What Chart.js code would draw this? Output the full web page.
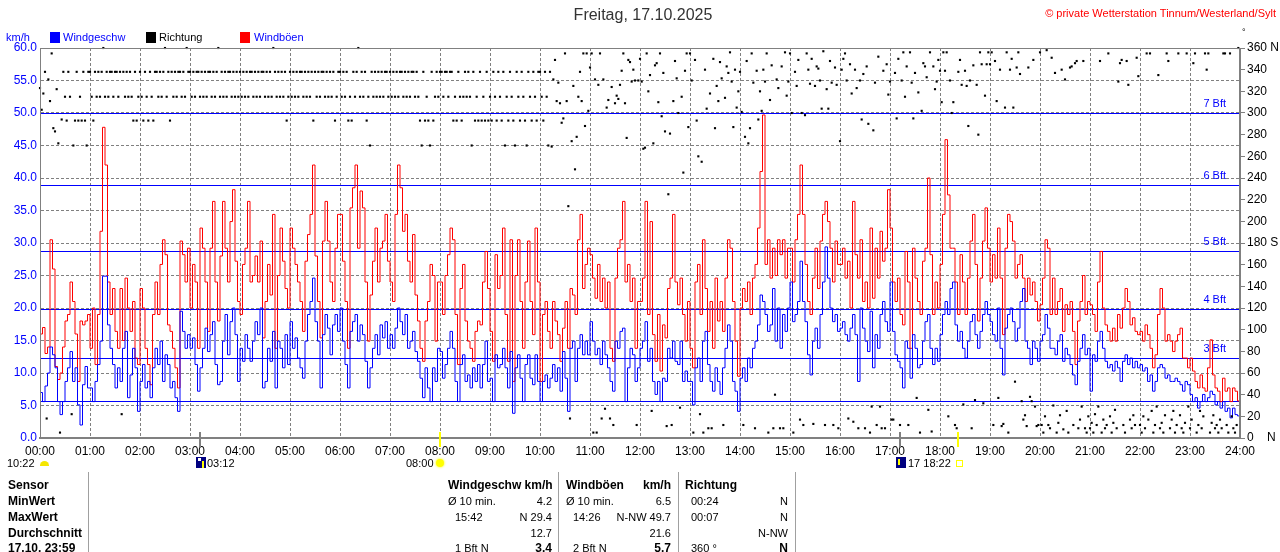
<!DOCTYPE html>
<html>
<head>
<meta charset="utf-8">
<script src="https://cdn.jsdelivr.net/npm/chart.js@4.4.1/dist/chart.umd.min.js"></script>
<style>
  body { margin: 0; background: #fff; }
  #wrap { position: relative; width: 1280px; height: 552px; overflow: hidden; background: #fff; }
  #windChart { position: absolute; left: 0; top: 0; }
  .tx { position: absolute; font: 11px "Liberation Sans", Arial, sans-serif; line-height: 14px; white-space: nowrap; color: #000; }
  .b { font-weight: bold; font-size: 12px; }
  .r { text-align: right; }
  .sep { position: absolute; width: 1px; background: #a0a0a0; top: 472px; height: 80px; }
  .mark { position: absolute; width: 2px; top: 432px; height: 15px; }
</style>
</head>
<body>
<div id="wrap">
  <canvas id="windChart" width="1280" height="552"></canvas>

  <div class="tx" style="left:3px;width:1280px;text-align:center;top:6px;font-size:16px;line-height:18px;color:#333">Freitag, 17.10.2025</div>
  <div class="tx" style="right:4px;top:6px;color:#ff0000">© private Wetterstation Tinnum/Westerland/Sylt</div>
  <div class="tx" style="left:1242px;top:25px;font-size:9px">°</div>

  <div class="tx" style="left:6px;top:30px;color:#0000ff">km/h</div>
  <div style="position:absolute;left:50px;top:32px;width:10px;height:11px;background:#0000ff"></div>
  <div class="tx" style="left:63px;top:30px;color:#0000ff">Windgeschw</div>
  <div style="position:absolute;left:146px;top:32px;width:10px;height:11px;background:#000"></div>
  <div class="tx" style="left:159px;top:30px">Richtung</div>
  <div style="position:absolute;left:240px;top:32px;width:10px;height:11px;background:#ff0000"></div>
  <div class="tx" style="left:254px;top:30px;color:#0000ff">Windböen</div>

  <!-- sun / moon markers under the time axis -->
  <div class="mark" style="left:199px;background:#808080"></div>
  <div class="mark" style="left:439px;background:#ffff00"></div>
  <div class="mark" style="left:899px;background:#808080"></div>
  <div class="mark" style="left:957px;background:#ffff00"></div>

  <div class="tx" style="left:7px;top:456px">10:22</div>
  <div style="position:absolute;left:40px;top:461px;width:9px;height:5px;background:#f5e600;border-radius:5px 5px 0 0"></div>
  <div style="position:absolute;left:196px;top:457px;width:10px;height:11px;background:#000080"></div>
  <div style="position:absolute;left:198px;top:458px;width:3px;height:3px;background:#fff"></div>
  <div style="position:absolute;left:202px;top:461px;width:2px;height:7px;background:#ffff00"></div>
  <div class="tx" style="left:207px;top:456px">03:12</div>
  <div class="tx" style="left:406px;top:456px">08:00</div>
  <div style="position:absolute;left:436px;top:459px;width:8px;height:8px;border-radius:4px;background:#ffff00;box-shadow:0 0 2px 1px #ffff80"></div>
  <div style="position:absolute;left:896px;top:457px;width:10px;height:11px;background:#000080"></div>
  <div style="position:absolute;left:898px;top:459px;width:2px;height:6px;background:#ffff00"></div>
  <div class="tx" style="left:908px;top:456px">17 18:22</div>
  <div style="position:absolute;left:956px;top:460px;width:5px;height:5px;border:1px solid #ffff00"></div>

  <!-- statistics table -->
  <div class="sep" style="left:88px"></div>
  <div class="sep" style="left:558px"></div>
  <div class="sep" style="left:678px"></div>
  <div class="sep" style="left:795px"></div>

  <div class="tx b" style="left:8px;top:478px">Sensor</div>
  <div class="tx b" style="left:448px;top:478px">Windgeschw km/h</div>
  <div class="tx b" style="left:566px;top:478px">Windböen</div>
  <div class="tx b" style="right:609px;top:478px">km/h</div>
  <div class="tx b" style="left:685px;top:478px">Richtung</div>

  <div class="tx b" style="left:8px;top:494px">MinWert</div>
  <div class="tx" style="left:448px;top:494px">Ø 10 min.</div>
  <div class="tx" style="right:728px;top:494px">4.2</div>
  <div class="tx" style="left:566px;top:494px">Ø 10 min.</div>
  <div class="tx" style="right:609px;top:494px">6.5</div>
  <div class="tx" style="left:691px;top:494px">00:24</div>
  <div class="tx" style="right:492px;top:494px">N</div>

  <div class="tx b" style="left:8px;top:510px">MaxWert</div>
  <div class="tx" style="left:455px;top:510px">15:42</div>
  <div class="tx" style="right:728px;top:510px">N 29.4</div>
  <div class="tx" style="left:573px;top:510px">14:26</div>
  <div class="tx" style="right:609px;top:510px">N-NW 49.7</div>
  <div class="tx" style="left:691px;top:510px">00:07</div>
  <div class="tx" style="right:492px;top:510px">N</div>

  <div class="tx b" style="left:8px;top:526px">Durchschnitt</div>
  <div class="tx" style="right:728px;top:526px">12.7</div>
  <div class="tx" style="right:609px;top:526px">21.6</div>
  <div class="tx" style="right:492px;top:526px">N-NW</div>

  <div class="tx b" style="left:8px;top:541px">17.10. 23:59</div>
  <div class="tx" style="left:455px;top:541px">1 Bft N</div>
  <div class="tx b" style="right:728px;top:541px">3.4</div>
  <div class="tx" style="left:573px;top:541px">2 Bft N</div>
  <div class="tx b" style="right:609px;top:541px">5.7</div>
  <div class="tx" style="left:691px;top:541px">360 °</div>
  <div class="tx b" style="right:492px;top:541px">N</div>
</div>

<script>
// one value every 3 minutes, 00:00 .. 23:57
const SPEED_STEP_MIN = 3;
const windSpeed = [
  7,5.6,8,10,14,12.8,10.8,5.6,3.6,5.6,8.7,10.8,13.3,8.7,10.8,5.1,2,8.2,11,7.7,
  7.7,5.6,8.7,11.3,14.9,24.9,24.9,17.4,13.8,11.3,7.7,10.8,8.7,13.8,16.4,6.2,9.7,13.8,10.8,4.1,
  8.7,11.3,7.7,8.7,6.2,10.8,13.8,11.3,14.9,8.7,12.8,11.3,7.7,8.7,6.2,4.1,19.5,16.4,13.8,15.9,
  13.8,15.4,11.3,7.2,10.8,13.8,16.9,13.3,15.9,17.9,11.3,8.2,8.7,14.9,19,12.8,17.9,20,15.9,8.7,
  13.8,11.8,15.9,13.8,11.8,14.9,17.9,15.9,20,7.7,8.7,13.8,11.8,16.4,7.7,14.9,13.8,10.8,15.9,11.3,
  17.9,13.8,15.4,12.3,10.8,9.2,14.9,19,21,24.6,17.9,14.9,7.7,15.9,19,16.9,12.8,17.4,19,16.4,
  20,14.9,11.3,7.7,16.4,17.9,19,14.9,17.4,15.9,11.8,7.7,10.8,13.8,15.9,12.8,17.4,15.4,17.9,13.8,
  15.9,13.8,16.9,20,17.9,15.9,19,13.8,14.9,16.4,13.3,11.8,9.2,6.2,10.8,7.7,5.6,10.8,8.7,13.8,
  13.3,9.2,11.3,13.8,16.4,13.8,8.7,5.6,11.3,12.8,8.7,9.7,7.7,10.8,8.7,11.3,7.7,11.3,14.9,8.7,
  9.2,5.6,12.8,10.8,11.3,13.8,10.8,7.7,13.3,3.8,10.8,12.8,9.2,5.6,11.3,12.8,9.2,8.2,12.8,8.7,
  5.6,8.7,9.7,7.7,9.2,11.3,8.7,10.8,7.2,13.3,9.2,4.1,13.8,14.9,8.7,13.8,15.9,12.8,14.9,12.8,
  17.9,14.9,12.8,13.8,11.3,14.9,12.8,10.8,8.7,7.2,14.9,13.8,16.4,16.9,5.6,10.8,13.8,12.8,8.7,10.8,
  13.8,14.9,17.9,11.8,13.8,8.7,6.7,8.7,5.6,9.2,8.7,13.8,12.3,14.9,11.8,11.3,14.9,8.7,10.3,8.7,
  8.7,5.1,10.8,12.3,8.7,14.9,16.4,11.3,8.7,7.2,10.8,8.7,6.7,10.8,13.8,17.4,14.9,8.7,7.2,4.1,
  9.2,10.8,8.7,12.3,10.8,13.8,14.9,17.4,22,21,19,16.4,17.4,23,14.9,20,13.8,19,16.4,20,
  24,17.9,19,21,27.2,21,17.9,12.8,9.7,14.9,16.9,13.8,19,24,29.4,24.6,20,17.9,19,16.4,
  16.9,17.9,15.9,14.9,16.9,19,15.9,8.7,20,16.9,14.9,13.3,19.5,10.8,15.9,13.8,19,21,17.9,16.4,
  24,16.4,12.8,11.8,10.8,7.7,14.9,13.8,9.2,15.9,13.8,10.8,11.3,14.9,17.9,19,13.8,11.3,13.8,11.8,
  15.9,19,21,19,23,24,17.4,14.9,16.4,13.8,12.3,14.9,17.9,19,15.9,13.8,16.4,19,21,19,
  17.9,15.9,14.9,20,13.8,9.7,16.9,19,20,17.9,14.9,16.9,21,23,14.9,13.8,11.3,14.9,13.8,11.8,
  14.9,15.9,19,16.9,13.8,13.8,12.8,14.9,15.9,11.8,13.8,12.8,11.3,9.7,8.2,11.8,13.8,15.9,12.8,13.8,
  7.2,12.8,11.8,14.9,16.4,13.8,11.8,10.8,11.3,10.3,11.8,10.8,8.7,11.8,12.8,11.3,12.3,10.8,11.8,10.8,
  11.3,10.3,10.8,8.7,9.7,7.2,8.7,10.8,11.3,10.8,9.2,9.7,8.7,8.7,9.2,8.7,8.2,7.2,8.7,8.2,
  6.7,5.6,6.2,4.6,5.6,6.7,5.6,6.2,7.2,6.7,5.1,5.6,4.6,5.6,4.1,4.6,3.1,4.6,3.6,3.4
];
const windGust = [
  16,17,13,14,30.5,26,11,9,10,14,18,19,24,21,16,8.7,18,17.4,18,19,
  13.8,20,11.3,19,31.8,47.8,42,24,19,23,16.4,13.8,23,15,24.6,20,16.4,21,12.3,11.3,
  23,20,13.8,11.3,8.2,19,24,19,26.7,30.5,28.2,17.4,16.4,13.8,10.8,7.7,30.3,28.2,24,29.2,
  20,26.7,24,13.8,32.3,29.2,24,16.4,29.2,36.4,24,18,28,36.4,29.2,24,33.3,38.2,27.2,21,
  19,26.7,29.2,36.4,24,25,28,24,30.3,15.4,21,26.7,22,34.4,13.8,25,32.3,27.2,23,20,
  32.3,29.2,26.7,24,21,16.4,27.2,31.3,34.4,42,28,21,15.4,30.3,36.4,30.3,24,21,29.2,34.4,
  34.4,27.2,21,13.8,35.4,38.5,42,29.2,38,35.4,24,14.9,22,27.2,32.3,24,29.2,30.3,34.4,27.2,
  24,21,34.4,42,38.5,31.8,34.4,27.2,24,31.3,22,18,13.8,11.8,18,21,26.7,25,14.9,24,
  24,19,25,28.2,32.3,30.5,19,11.3,23,26.7,18,14.9,13.8,11.8,16.4,18,17.4,24,28.7,23,
  16.4,11.8,28.2,23,25,32.3,19,11.8,30.5,8.7,25,30.5,21,13.8,24,30.3,21,15.9,32.3,24,
  8.7,19,21,16.4,13.8,21,18,15.9,11.8,16.9,21,13.8,23,22,19,30.5,34.4,23,26.7,29.2,
  28.2,24.6,21.5,26.7,21,24.6,20,24,13.8,11.8,24.6,29.2,30.5,36.4,24,26.7,21,24.6,13.8,21,
  21,24.6,36.4,19,33.3,15.9,11.8,19,10.3,17.4,15.4,23,24.6,34.4,24,20.5,24.6,19,14.9,21,
  13.8,10.8,24,26.7,19,30.5,23,16.4,21,13.8,24.6,18,21,16.4,24.6,30.5,29.2,21,14.9,9.5,
  20,23,21,24,19,24.6,26.7,32.3,41,49.7,26.7,30.5,24.6,29.2,25,30.5,28.2,30.5,24.6,29.2,
  29.2,24,30.5,34.4,42,34.4,26.7,21,19,24.6,29.2,23,30.3,34.4,36.4,33.3,29.2,24,30.3,26.7,
  26.7,29.2,24.6,27.2,20,36.4,28.2,24.6,30.5,21,24,20,32.3,21.5,29.2,24.6,31.8,27.2,29.2,38.2,
  32.3,24,21,24.6,19,17.4,28.7,24,13.8,29.2,24.6,21,19,27.2,29.2,40,28.2,19,24,20,
  26.7,34.4,45.9,37.4,29.2,29.2,24,19,28.2,24,19,24.6,30.3,34.4,26.7,18,24.6,30.3,35.4,29.2,
  24,28.2,24.6,32.3,24.6,15.9,29.2,34.4,33.3,30.3,24.6,26.7,28.2,24.6,21,24.6,22,24,21,18,
  20.5,24.6,30.5,29.2,19,24.6,19,21,23,16.4,20.5,19,21,16.4,11.3,18,21,25,19,21,
  20.5,19,16.4,24,28.7,20,17.4,16.4,14.9,16.9,14.9,19,16.9,20,23,21,17.4,18.5,16.4,15.9,
  16.4,14.9,17.4,15.9,13.8,10.8,12.8,19,23,20,14.9,15.9,14.9,13.3,14.9,15.9,16.9,12.3,12.3,10.8,
  12.3,10.3,8.7,7.7,9.7,7.7,7.2,10.8,15.1,9.7,7.7,7.2,5.6,9.2,7.2,7.7,5.6,7.7,7.2,5.7
];
// wind direction in degrees, one value every 2 minutes
const DIR_STEP_MIN = 2;
const windDir = [
  323,303,318,338,18,331,311,355,286,283,322,272,5,294,338,315,293,338,315,22,270,293,338,293,315,293,338,293,270,338,
  338,315,293,338,315,338,315,338,360,315,338,315,338,338,315,338,338,315,338,22,338,315,338,315,338,315,293,338,293,315,
  338,315,293,338,315,293,338,315,293,338,338,315,338,315,338,360,315,338,293,338,315,338,315,338,338,315,338,315,360,338,
  338,315,338,315,338,338,315,338,315,338,315,338,338,315,338,315,338,360,315,338,315,338,315,338,338,315,338,315,338,315,
  338,315,338,315,338,315,338,338,315,338,315,338,315,338,338,315,338,315,338,315,360,338,315,338,315,338,315,338,293,315,
  338,315,338,315,338,315,338,338,315,338,315,338,315,338,293,338,315,338,315,338,338,315,338,315,338,315,338,293,315,338,
  338,315,338,315,338,293,315,293,338,315,338,360,315,338,315,338,293,315,270,338,315,338,315,338,315,338,315,338,338,315,
  338,315,338,315,338,315,338,338,315,338,315,338,315,338,338,315,338,315,293,270,338,293,315,293,270,338,293,315,338,315,
  338,338,315,338,338,315,338,338,293,315,293,338,315,293,315,338,315,338,315,270,338,293,315,293,338,293,315,293,338,293,
  315,293,338,315,293,338,315,293,338,270,315,293,338,315,293,270,338,315,293,338,315,293,270,338,315,293,338,315,293,338,
  338,315,293,338,315,270,338,269,331,349,311,328,309,291,295,355,311,214,18,274,325,248,278,315,338,311,355,288,355,302,
  342,355,5,331,5,326,355,18,331,27,305,312,18,324,12,309,316,313,326,339,355,309,277,349,347,329,340,330,12,330,
  350,329,267,268,355,320,335,25,272,344,346,310,355,297,337,283,11,225,281,12,311,348,332,300,28,315,245,339,355,287,
  355,330,5,349,293,260,22,255,5,340,304,9,318,9,350,286,325,311,347,332,12,314,343,337,356,329,287,340,305,320,
  338,301,12,278,348,272,286,355,328,9,339,294,320,302,340,329,355,5,312,344,9,40,331,323,9,343,9,356,316,329,
  355,300,5,338,325,349,17,300,12,298,355,340,327,350,13,325,343,341,330,304,357,12,322,304,348,328,12,342,326,9,
  274,340,350,355,330,18,345,318,15,340,323,9,330,294,336,9,343,290,5,29,284,328,12,352,29,9,339,9,345,317,
  329,17,17,337,295,350,12,330,356,315,343,12,356,328,295,337,37,319,5,302,346,343,333,26,356,6,343,322,329,349,
  339,310,356,339,356,20,330,300,310,12,9,338,349,326,31,339,325,288,330,9,344,35,326,280,356,345,32,316,345,356,
  345,356,12,348,311,37,340,11,13,305,356,5,340,350,305,52,342,356,336,34,17,21,11,342,38,34,349,29,11,12,
  356,12,5,20,358,12,9,351,30,337,5,14,21,340,8,331,25,5,342,343,12,346,348,9,17,29,348,9,5,20,
  9,14,5,22,12,29,348,5,17,9,12,355,20,5,14,26,9,329,346,349,12,5,348,326,17,9,21,12,351,334,
  12,5,20,9,355,17,355,25,5,12,29,335,9,14,5,21,355,348,9,17,25,5,12,355,21,9,5,14,355,29,
  9,17,346,355,5,12,25,9,20,355,340,355,5,14,21,9,12,5,17,9,355,355,12,5,355,20,9,5,12,360
];
// Beaufort thresholds in km/h and their labels
const bftValues = [5.76, 12.24, 19.8, 28.8, 38.88, 50.04];
const bftLabels = ['', '3 Bft', '4 Bft', '5 Bft', '6 Bft', '7 Bft'];

const DAY_MIN = 1440;

function toPoints(values, step, closeDay) {
    const pts = values.map((v, i) => ({ x: i * step, y: v }));
    if (closeDay) pts.push({ x: DAY_MIN, y: values[values.length - 1] });
    return pts;
}

function hhmm(min) {
    return String(Math.round(min / 60)).padStart(2, '0') + ':00';
}

const bftPlugin = {
    id: 'bft',
    beforeDatasetsDraw(chart) {
        const { ctx, chartArea: a, scales: { y } } = chart;
        ctx.save();
        ctx.strokeStyle = '#0000ff';
        ctx.lineWidth = 1;
        bftValues.forEach(v => {
            const py = Math.round(y.getPixelForValue(v)) + 0.5;
            ctx.beginPath();
            ctx.moveTo(a.left, py);
            ctx.lineTo(a.right, py);
            ctx.stroke();
        });
        ctx.restore();
    },
    afterDatasetsDraw(chart) {
        const { ctx, chartArea: a, scales: { y } } = chart;
        ctx.save();
        ctx.fillStyle = '#0000ff';
        ctx.font = '11px "Liberation Sans", Arial, sans-serif';
        ctx.textAlign = 'right';
        ctx.textBaseline = 'middle';
        bftValues.forEach((v, i) => {
            if (!bftLabels[i]) return;
            ctx.fillText(bftLabels[i], a.right - 14, y.getPixelForValue(v) - 9);
        });
        // frame round the plot
        ctx.strokeStyle = '#808080';
        ctx.lineWidth = 1;
        ctx.strokeRect(a.left + 0.5, a.top + 0.5, a.right - a.left - 1, a.bottom - a.top);
        ctx.restore();
    }
};

Chart.defaults.font.family = '"Liberation Sans", Arial, sans-serif';
Chart.defaults.font.size = 12;

const ctx = document.getElementById('windChart').getContext('2d');
const windChart = new Chart(ctx, {
    type: 'line',
    data: {
        datasets: [{
            label: 'Richtung',
            data: toPoints(windDir, DIR_STEP_MIN, false),
            yAxisID: 'y2',
            showLine: false,
            pointStyle: 'rect',
            pointRadius: 1.5,
            pointBorderWidth: 0,
            pointBackgroundColor: '#000000',
            clip: 3,
            order: 1
        }, {
            label: 'Windgeschw',
            data: toPoints(windSpeed, SPEED_STEP_MIN, true),
            yAxisID: 'y',
            borderColor: '#0000ff',
            borderWidth: 1,
            pointRadius: 0,
            stepped: true,
            order: 2
        }, {
            label: 'Windböen',
            data: toPoints(windGust, SPEED_STEP_MIN, true),
            yAxisID: 'y',
            borderColor: '#ff0000',
            borderWidth: 1,
            pointRadius: 0,
            stepped: true,
            order: 3
        }]
    },
    options: {
        responsive: false,
        devicePixelRatio: 1,
        animation: false,
        events: [],
        layout: { padding: { top: 48, left: 0, right: 0, bottom: 0 } },
        plugins: {
            legend: { display: false },
            tooltip: { enabled: false }
        },
        scales: {
            x: {
                type: 'linear',
                min: 0,
                max: DAY_MIN,
                ticks: {
                    stepSize: 60,
                    maxTicksLimit: 25,
                    autoSkip: false,
                    maxRotation: 0,
                    color: '#000',
                    padding: 6,
                    callback: v => hhmm(v)
                },
                grid: { color: '#808080', drawTicks: false },
                border: { color: '#808080', width: 2, dash: [3, 2] },
                afterFit(scale) { scale.height = 114; }
            },
            y: {
                position: 'left',
                min: 0,
                max: 60,
                ticks: {
                    stepSize: 5,
                    maxTicksLimit: 13,
                    color: '#0000ff',
                    padding: 3,
                    callback: v => v.toFixed(1)
                },
                grid: { color: '#808080', drawTicks: false },
                border: { color: '#808080', width: 1, dash: [3, 2] },
                afterFit(scale) { scale.width = 40; }
            },
            y2: {
                position: 'right',
                min: 0,
                max: 360,
                ticks: {
                    stepSize: 20,
                    maxTicksLimit: 19,
                    color: '#000',
                    padding: 2,
                    callback: v => v === 360 ? '360 N' : v === 180 ? '180 S' : v === 0 ? '0    N' : String(v)
                },
                grid: { drawOnChartArea: false, color: '#808080', tickLength: 5 },
                border: { color: '#808080', width: 1 },
                afterFit(scale) { scale.width = 40; }
            }
        }
    },
    plugins: [bftPlugin]
});
</script>
</body>
</html>
